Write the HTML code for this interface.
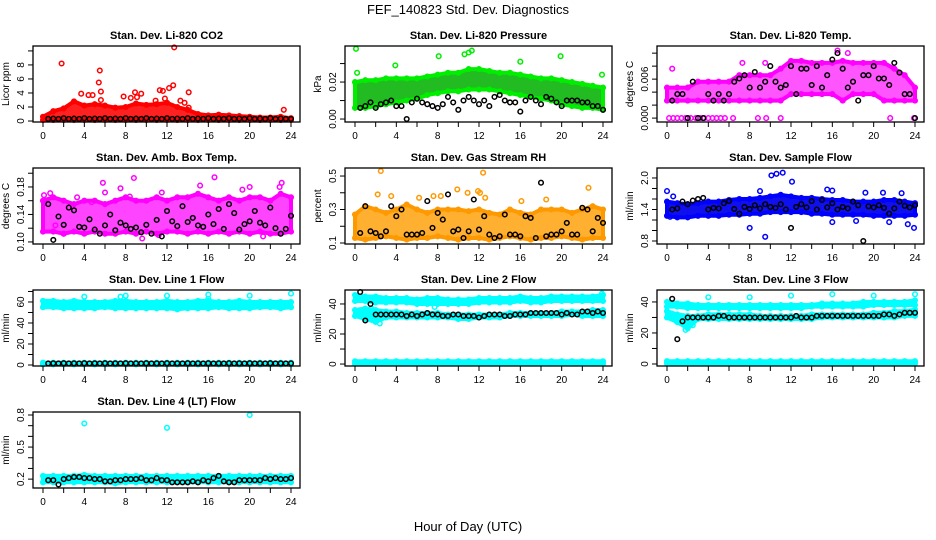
<!DOCTYPE html>
<html><head><meta charset="utf-8">
<style>
html,body{margin:0;padding:0;background:#fff;}
svg{display:block;font-family:"Liberation Sans","DejaVu Sans",sans-serif;}
</style></head>
<body>
<svg id="chart" width="936" height="540" viewBox="0 0 936 540" xmlns="http://www.w3.org/2000/svg">
<rect x="0" y="0" width="936" height="540" fill="#fff"/>
<text x="468" y="14" font-size="13" text-anchor="middle">FEF_140823  Std. Dev. Diagnostics</text>
<text x="468" y="531" font-size="13" text-anchor="middle">Hour of Day (UTC)</text>
</svg>
<script>
// ---------- data ----------
const co2Hi=[0.6,1.4,1.8,2.8,2.2,2.4,2.2,1.9,2.0,2.5,2.3,2.4,2.6,2.0,1.6,1.0,0.8,0.9,0.8,0.7,0.6,0.5,0.5,0.6,0.4];
const co2Lo=[0.15,0.15,0.15,0.15,0.15,0.15,0.15,0.15,0.15,0.15,0.15,0.15,0.15,0.15,0.15,0.15,0.15,0.15,0.15,0.15,0.15,0.15,0.15,0.15,0.15];
const co2Out=[[1.8,8.2],[3.7,3.9],[4.4,3.7],[4.8,3.7],[5.4,5.5],[5.5,7.2],[5.6,4.2],[5.6,3.0],[7.8,3.5],[8.5,3.3],[8.9,4.1],[9.1,3.4],[9.5,3.9],[10.9,2.9],[11.3,4.4],[11.6,4.3],[11.8,3.2],[12.2,4.7],[12.6,5.1],[12.7,10.5],[13.3,2.9],[13.7,2.6],[14.1,4.1],[14.1,1.9],[23.3,1.6]];
const co2Blk=[0.3,0.35,0.3,0.4,0.3,0.35,0.3,0.4,0.3,0.35,0.3,0.4,0.3,0.35,0.3,0.4,0.3,0.35,0.3,0.4,0.3,0.35,0.3,0.4,0.3,0.35,0.3,0.4,0.3,0.35,0.3,0.4,0.3,0.35,0.3,0.4,0.3,0.35,0.3,0.4,0.3,0.35,0.3,0.4,0.3,0.35,0.3,0.3];

const presHi=[0.020,0.021,0.021,0.022,0.022,0.022,0.022,0.023,0.024,0.025,0.025,0.027,0.027,0.026,0.025,0.025,0.024,0.023,0.022,0.022,0.021,0.020,0.019,0.018,0.017];
const presLo=[0.006,0.006,0.007,0.008,0.009,0.010,0.011,0.013,0.014,0.015,0.015,0.016,0.016,0.016,0.015,0.014,0.013,0.012,0.011,0.010,0.008,0.007,0.006,0.006,0.005];
const presOut=[[0.1,0.038],[0.2,0.025],[3.9,0.029],[8.1,0.034],[10.6,0.035],[11.0,0.036],[11.3,0.037],[16.0,0.031],[19.9,0.034],[23.9,0.024]];
const presBlk=[0.006,0.007,0.009,0.006,0.008,0.009,0.010,0.007,0.007,0.000,0.009,0.011,0.009,0.008,0.007,0.006,0.008,0.012,0.009,0.005,0.010,0.012,0.010,0.008,0.010,0.007,0.012,0.013,0.010,0.009,0.009,0.004,0.010,0.012,0.010,0.008,0.012,0.011,0.009,0.007,0.010,0.010,0.010,0.009,0.009,0.007,0.007,0.005];

const tempHi=[0.0047,0.0047,0.0047,0.0056,0.0056,0.0056,0.0056,0.0066,0.0066,0.0066,0.0066,0.0076,0.0088,0.0088,0.0085,0.0085,0.0085,0.0088,0.0085,0.0085,0.0085,0.0085,0.0076,0.0066,0.0047];
const tempLo=[0.0027,0.0027,0.0027,0.0027,0.0027,0.0027,0.0027,0.0027,0.0027,0.0027,0.0027,0.0027,0.0037,0.0037,0.0037,0.0037,0.0037,0.0027,0.0037,0.0037,0.0037,0.0027,0.0027,0.0027,0.0027];
const tempOut=[[0.2,0],[0.6,0],[1.0,0],[1.4,0],[1.8,0],[2.3,0],[2.8,0],[3.2,0],[3.6,0],[4.0,0],[4.4,0],[4.8,0],[5.2,0],[5.6,0],[6.4,0],[8.8,0],[9.6,0],[11.0,0],[21.6,0],[23.9,0],[0.5,0.0076],[7.3,0.0085],[9.5,0.0085],[17.5,0.0100],[16.5,0.0104]];
const tempBlk=[0.0027,0.0037,0.0037,0.0000,0.0056,0.0000,0.0000,0.0037,0.0027,0.0037,0.0027,0.0037,0.0056,0.0061,0.0066,0.0047,0.0071,0.0047,0.0056,0.0080,0.0056,0.0047,0.0051,0.0080,0.0037,0.0076,0.0076,0.0051,0.0080,0.0047,0.0066,0.0090,0.0100,0.0076,0.0047,0.0056,0.0027,0.0066,0.0066,0.0080,0.0061,0.0061,0.0051,0.0085,0.0070,0.0037,0.0037,0.0000];

const ambHi=[0.160,0.165,0.160,0.155,0.160,0.160,0.155,0.160,0.165,0.160,0.160,0.165,0.160,0.165,0.165,0.170,0.165,0.160,0.165,0.160,0.165,0.165,0.160,0.170,0.165];
const ambLo=[0.115,0.115,0.112,0.115,0.112,0.115,0.112,0.112,0.115,0.112,0.115,0.112,0.115,0.115,0.112,0.115,0.112,0.115,0.112,0.115,0.112,0.115,0.112,0.112,0.115];
const ambOut=[[0.1,0.168],[0.7,0.171],[1.2,0.124],[2.0,0.112],[3.3,0.165],[4.7,0.158],[5.8,0.186],[6.0,0.172],[7.5,0.178],[8.4,0.166],[8.8,0.193],[9.6,0.105],[11.2,0.110],[11.5,0.172],[16.6,0.194],[15.2,0.182],[19.3,0.176],[20.0,0.180],[22.9,0.180],[23.1,0.186],[21.3,0.108]];
const ambBlk=[0.155,0.103,0.137,0.125,0.150,0.146,0.122,0.121,0.133,0.118,0.112,0.124,0.140,0.117,0.128,0.124,0.119,0.121,0.114,0.125,0.112,0.132,0.108,0.145,0.130,0.123,0.152,0.129,0.135,0.124,0.122,0.140,0.126,0.148,0.119,0.155,0.142,0.118,0.126,0.130,0.145,0.128,0.124,0.150,0.120,0.112,0.119,0.138];

const rhHi=[0.27,0.32,0.30,0.28,0.30,0.33,0.30,0.28,0.30,0.30,0.30,0.29,0.30,0.28,0.27,0.30,0.28,0.27,0.30,0.30,0.30,0.28,0.30,0.32,0.30];
const rhLo=[0.13,0.12,0.13,0.14,0.13,0.12,0.13,0.13,0.14,0.13,0.12,0.13,0.13,0.12,0.13,0.14,0.13,0.12,0.13,0.13,0.14,0.13,0.12,0.13,0.13];
const rhOut=[[2.5,0.53],[2.2,0.39],[12.4,0.52],[3.5,0.38],[8.3,0.38],[9.9,0.42],[10.9,0.40],[11.9,0.41],[12.1,0.40],[18.5,0.36],[22.6,0.43],[16.1,0.35],[12.6,0.37],[6.2,0.37],[7.6,0.38]];
const rhBlk=[0.16,0.32,0.17,0.16,0.14,0.17,0.32,0.26,0.30,0.15,0.15,0.15,0.16,0.35,0.19,0.28,0.24,0.39,0.17,0.18,0.13,0.17,0.36,0.18,0.26,0.15,0.13,0.14,0.27,0.15,0.15,0.14,0.26,0.25,0.13,0.46,0.14,0.15,0.15,0.17,0.22,0.15,0.15,0.31,0.30,0.17,0.25,0.22];

const flowHi=[1.55,1.52,1.50,1.52,1.55,1.55,1.58,1.60,1.60,1.62,1.65,1.68,1.65,1.62,1.62,1.60,1.58,1.58,1.55,1.55,1.55,1.58,1.58,1.55,1.52];
const flowLo=[1.28,1.25,1.25,1.28,1.28,1.28,1.30,1.30,1.32,1.32,1.35,1.35,1.35,1.35,1.32,1.32,1.30,1.30,1.30,1.30,1.28,1.28,1.28,1.28,1.30];
const flowOut=[[0,1.75],[0.6,1.65],[9.0,1.75],[9.5,0.88],[8.0,1.05],[10.1,2.05],[10.6,2.08],[11.2,2.10],[12.1,1.93],[15.5,1.78],[16.0,1.76],[16.0,1.16],[18.3,1.18],[19.2,1.72],[20.9,1.72],[21.5,1.16],[22.7,1.71],[23.3,1.12],[23.9,1.05],[0.3,1.26]];
const flowBlk=[1.40,1.42,1.55,1.50,1.57,1.60,1.62,1.40,1.43,1.42,1.52,1.56,1.41,1.32,1.45,1.41,1.48,1.42,1.50,1.45,1.43,1.50,1.40,1.05,1.45,1.50,1.44,1.56,1.40,1.58,1.44,1.52,1.40,1.45,1.42,1.55,1.48,0.80,1.46,1.44,1.48,1.43,1.32,1.42,1.55,1.47,1.44,1.48];

const l1Hi=[61,61,60,61,60,60,60,61,61,60,60,60,61,60,60,61,61,60,60,61,60,60,60,60,60];
const l1Lo=[55,55,54,54,54,54,55,54,54,54,54,54,54,53,54,54,54,55,54,54,54,55,55,54,55];
const l1ZHi=[2.2,2.2,2.2,2.2,2.2,2.2,2.2,2.2,2.2,2.2,2.2,2.2,2.2,2.2,2.2,2.2,2.2,2.2,2.2,2.2,2.2,2.2,2.2,2.2,2.2];
const l1ZLo=[0.6,0.6,0.6,0.6,0.6,0.6,0.6,0.6,0.6,0.6,0.6,0.6,0.6,0.6,0.6,0.6,0.6,0.6,0.6,0.6,0.6,0.6,0.6,0.6,0.6];
const l1Out=[[4,65],[7.5,65],[8,66],[12,66],[16,67],[16,63],[20,66],[24,68]];
const l1Blk=[1.5,1.6,1.5,1.7,1.5,1.6,1.5,1.7,1.5,1.6,1.5,1.7,1.5,1.6,1.5,1.7,1.5,1.6,1.5,1.7,1.5,1.6,1.5,1.7,1.5,1.6,1.5,1.7,1.5,1.6,1.5,1.7,1.5,1.6,1.5,1.7,1.5,1.6,1.5,1.7,1.5,1.6,1.5,1.7,1.5,1.6,1.5,1.6];

const l2Hi=[46,45,45,44,44,44,43,44,44,43,43,43,44,44,44,44,45,44,44,45,45,45,45,45,46];
const l2Lo=[42,42,41,41,41,41,40,40,40,40,40,40,41,41,41,41,42,41,41,42,42,42,42,42,42];
const l2MHi=[36,37,36,35,35,34,34,34,34,33,33,33,33,33,33,34,34,34,34,34,35,35,35,36,36];
const l2MLo=[32,30,28,31,31,31,31,31,31,31,30,30,31,31,31,32,32,32,32,32,32,33,32,32,32];
const l2ZHi=[1.8,1.8,1.8,1.8,1.8,1.8,1.8,1.8,1.8,1.8,1.8,1.8,1.8,1.8,1.8,1.8,1.8,1.8,1.8,1.8,1.8,1.8,1.8,1.8,1.8];
const l2ZLo=[0.3,0.3,0.3,0.3,0.3,0.3,0.3,0.3,0.3,0.3,0.3,0.3,0.3,0.3,0.3,0.3,0.3,0.3,0.3,0.3,0.3,0.3,0.3,0.3,0.3];
const l2Out=[[2.4,27],[1.6,37],[7.7,38],[23.9,47]];
const l2Blk=[48,29,40,33,33,33,33,33,33,32,33,32,33,34,33,33,32,32,33,33,32,32,32,31,32,33,33,33,32,32,33,33,33,34,34,34,34,34,34,33,34,33,33,35,35,34,35,34];

const l3Hi=[40,39,39,38,38,38,38,38,38,38,38,38,38,38,38,39,39,39,39,40,40,40,40,40,41];
const l3Lo=[37,37,36,36,36,36,36,36,36,36,36,36,36,36,37,37,37,37,37,37,38,38,38,38,38];
const l3MHi=[34,32,31,31,32,32,32,32,32,31,31,31,31,31,32,32,32,32,32,32,33,33,34,34,35];
const l3MLo=[30,27,23,29,29,29,29,29,29,29,29,29,29,29,29,30,30,30,30,30,30,30,30,31,31];
const l3ZHi=[1.8,1.8,1.8,1.8,1.8,1.8,1.8,1.8,1.8,1.8,1.8,1.8,1.8,1.8,1.8,1.8,1.8,1.8,1.8,1.8,1.8,1.8,1.8,1.8,1.8];
const l3ZLo=[0.3,0.3,0.3,0.3,0.3,0.3,0.3,0.3,0.3,0.3,0.3,0.3,0.3,0.3,0.3,0.3,0.3,0.3,0.3,0.3,0.3,0.3,0.3,0.3,0.3];
const l3Out=[[4,43],[8,43],[12,44],[16,45],[20,44],[24,45],[2.5,25],[1.8,22]];
const l3Blk=[42,16,27.5,30,30,30,30,30,30,31,31,30,30,30,30,30,30,30,30,30,30,30,30,30,31,30,30,30,31,31,31,31,31,31,31,31,31,31,31,31,31,32,32,31,32,33,33,33];

const l4Hi=[0.23,0.23,0.23,0.23,0.24,0.23,0.23,0.23,0.23,0.23,0.23,0.23,0.23,0.23,0.23,0.23,0.23,0.23,0.23,0.23,0.23,0.23,0.23,0.23,0.23];
const l4Lo=[0.17,0.17,0.17,0.17,0.17,0.17,0.17,0.16,0.17,0.17,0.17,0.17,0.17,0.17,0.17,0.17,0.17,0.17,0.17,0.17,0.17,0.17,0.17,0.17,0.17];
const l4Out=[[4,0.72],[12,0.68],[20,0.8]];
const l4Blk=[0.19,0.19,0.15,0.20,0.21,0.22,0.22,0.21,0.21,0.20,0.20,0.18,0.18,0.19,0.19,0.20,0.20,0.20,0.21,0.19,0.19,0.21,0.19,0.19,0.17,0.17,0.17,0.17,0.18,0.17,0.19,0.18,0.21,0.23,0.18,0.17,0.17,0.19,0.19,0.19,0.19,0.19,0.21,0.20,0.21,0.20,0.20,0.21];

const xTicks=[0,2,4,6,8,10,12,14,16,18,20,22,24];
const xLabels=["0","","4","","8","","12","","16","","20","","24"];

// ---------- panels ----------
const panels=[
 {name:"co2",title:"Stan. Dev. Li-820 CO2",ylab:"Licor ppm",col:0,row:0,d:[-0.14,10.7],ticks:[0,2,4,6,8,10],labels:["0","2","4","6","8",""],color:"#ff0000",fill:"#ff2020",bands:[[co2Lo,co2Hi]],out:co2Out,blk:co2Blk},
 {name:"pressure",title:"Stan. Dev. Li-820 Pressure",ylab:"kPa",col:1,row:0,d:[-0.0016,0.0395],ticks:[0,0.01,0.02,0.03],labels:["0.00","","0.02",""],color:"#00ee00",fill:"#22bb22",bands:[[presLo,presHi]],out:presOut,blk:presBlk},
 {name:"temp",title:"Stan. Dev. Li-820 Temp.",ylab:"degrees C",col:2,row:0,d:[-0.0006,0.0111],ticks:[0,0.002,0.004,0.006,0.008,0.010],labels:["0.000","","","0.006","",""],color:"#ff00ff",fill:"#ff55ff",bands:[[tempLo,tempHi]],out:tempOut,blk:tempBlk},
 {name:"amb-box-temp",title:"Stan. Dev. Amb. Box Temp.",ylab:"degrees C",col:0,row:1,d:[0.097,0.2076],ticks:[0.10,0.12,0.14,0.16,0.18,0.20],labels:["0.10","","0.14","","0.18",""],color:"#ff00ff",fill:"#ff44ff",bands:[[ambLo,ambHi]],out:ambOut,blk:ambBlk},
 {name:"gas-rh",title:"Stan. Dev. Gas Stream RH",ylab:"percent",col:1,row:1,d:[0.094,0.548],ticks:[0.1,0.2,0.3,0.4,0.5],labels:["0.1","","0.3","","0.5"],color:"#ff9900",fill:"#ffb030",bands:[[rhLo,rhHi]],out:rhOut,blk:rhBlk},
 {name:"sample-flow",title:"Stan. Dev. Sample Flow",ylab:"ml/min",col:2,row:1,d:[0.743,2.19],ticks:[0.8,1.0,1.2,1.4,1.6,1.8,2.0],labels:["0.8","","","1.4","","","2.0"],color:"#0000ff",fill:"#1010ee",bands:[[flowLo,flowHi]],out:flowOut,blk:flowBlk},
 {name:"line1-flow",title:"Stan. Dev. Line 1 Flow",ylab:"ml/min",col:0,row:2,d:[-0.95,71.4],ticks:[0,10,20,30,40,50,60,70],labels:["0","","20","","40","","60",""],color:"#00ffff",fill:"#00ffff",bands:[[l1Lo,l1Hi],[l1ZLo,l1ZHi]],out:l1Out,blk:l1Blk},
 {name:"line2-flow",title:"Stan. Dev. Line 2 Flow",ylab:"ml/min",col:1,row:2,d:[-1.3,49.3],ticks:[0,10,20,30,40],labels:["0","","20","","40"],color:"#00ffff",fill:"#00ffff",bands:[[l2Lo,l2Hi],[l2MLo,l2MHi],[l2ZLo,l2ZHi]],out:l2Out,blk:l2Blk},
 {name:"line3-flow",title:"Stan. Dev. Line 3 Flow",ylab:"ml/min",col:2,row:2,d:[-1.3,47.7],ticks:[0,10,20,30,40],labels:["0","","20","","40"],color:"#00ffff",fill:"#00ffff",bands:[[l3Lo,l3Hi],[l3MLo,l3MHi],[l3ZLo,l3ZHi]],out:l3Out,blk:l3Blk},
 {name:"line4-flow",title:"Stan. Dev. Line 4 (LT) Flow",ylab:"ml/min",col:0,row:3,d:[0.117,0.828],ticks:[0.2,0.3,0.4,0.5,0.6,0.7,0.8],labels:["0.2","","","0.5","","","0.8"],color:"#00ffff",fill:"#00ffff",bands:[[l4Lo,l4Hi]],out:l4Out,blk:l4Blk}
];

const svg=document.getElementById('chart');
const NS='http://www.w3.org/2000/svg';
function el(tag,parent){const e=document.createElementNS(NS,tag);parent.appendChild(e);return e;}
function xS(p,h){return p.left+10+h*248/24;}
function yS(p,v){return p.top+p.h*(p.d[1]-v)/(p.d[1]-p.d[0]);}
function circ(g,x,y,color,sw){
  const c=el('circle',g);
  
  
  c.setAttribute('cx',x.toFixed(1));c.setAttribute('cy',y.toFixed(1));
  c.setAttribute('r','2.3');c.setAttribute('fill','none');
  c.setAttribute('stroke',color);c.setAttribute('stroke-width',sw);
}

panels.forEach(p=>{
  p.left=33+p.col*312; p.top=46+p.row*122; p.w=267; p.h=76;
  const g=el('g',svg);
  
  

  const t=el('text',g);
  
  
  t.setAttribute('x',p.left+p.w/2);t.setAttribute('y',p.top-7);
  t.setAttribute('font-size','11');t.setAttribute('font-weight','bold');t.setAttribute('text-anchor','middle');
  t.textContent=p.title;

  const yl=el('text',g);
  
  
  const yx=p.left-24, yy=p.top+p.h/2;
  yl.setAttribute('transform','translate('+yx+','+yy+') rotate(-90)');
  yl.setAttribute('font-size','10');yl.setAttribute('text-anchor','middle');
  yl.textContent=p.ylab;

  // bands
  p.bands.forEach(b=>{
    const lo=b[0],hi=b[1];
    let pts=[];
    hi.forEach((v,i)=>pts.push(xS(p,i).toFixed(1)+','+yS(p,v).toFixed(1)));
    for(let i=lo.length-1;i>=0;i--) pts.push(xS(p,i).toFixed(1)+','+yS(p,lo[i]).toFixed(1));
    const poly=el('polygon',g);
    
    
    poly.setAttribute('points',pts.join(' '));
    poly.setAttribute('fill',p.fill);poly.setAttribute('stroke',p.color);poly.setAttribute('stroke-width','4');poly.setAttribute('stroke-linejoin','round');
    hi.forEach((v,i)=>circ(g,xS(p,i),yS(p,v),p.color,1.5));
    lo.forEach((v,i)=>circ(g,xS(p,i),yS(p,v),p.color,1.5));
  });
  p.out.forEach(o=>circ(g,xS(p,o[0]),yS(p,o[1]),p.color,1.5));
  p.blk.forEach((v,i)=>circ(g,xS(p,0.5*(i+1)),yS(p,v),'#000',1.5));

  // box
  const r=el('rect',g);
  
  
  r.setAttribute('x',p.left);r.setAttribute('y',p.top);r.setAttribute('width',p.w);r.setAttribute('height',p.h);
  r.setAttribute('fill','none');r.setAttribute('stroke','#000');r.setAttribute('stroke-width','1.3');

  // y ticks
  p.ticks.forEach((v,i)=>{
    const y=yS(p,v);
    const tk=el('line',g);
    
    
    tk.setAttribute('x1',p.left-5);tk.setAttribute('x2',p.left);tk.setAttribute('y1',y);tk.setAttribute('y2',y);
    tk.setAttribute('stroke','#000');tk.setAttribute('stroke-width','1');
    if(p.labels[i]){
      const lb=el('text',g);
      
      
      lb.setAttribute('transform','translate('+(p.left-9)+','+y+') rotate(-90)');
      lb.setAttribute('font-size','10');lb.setAttribute('text-anchor','middle');
      lb.textContent=p.labels[i];
    }
  });
  // x ticks
  xTicks.forEach((h,i)=>{
    const x=xS(p,h);
    const tk=el('line',g);
    
    
    tk.setAttribute('x1',x);tk.setAttribute('x2',x);tk.setAttribute('y1',p.top+p.h);tk.setAttribute('y2',p.top+p.h+5);
    tk.setAttribute('stroke','#000');tk.setAttribute('stroke-width','1');
    if(xLabels[i]){
      const lb=el('text',g);
      
      
      lb.setAttribute('x',x);lb.setAttribute('y',p.top+p.h+17);
      lb.setAttribute('font-size','10');lb.setAttribute('text-anchor','middle');
      lb.textContent=xLabels[i];
    }
  });
});
</script>
</body></html>
